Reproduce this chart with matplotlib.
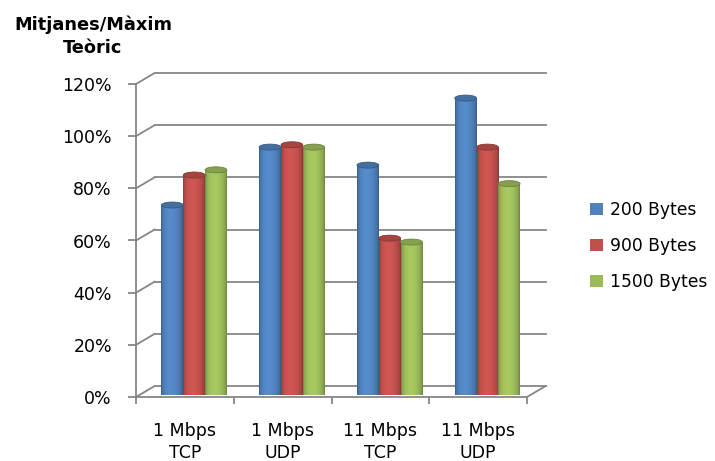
import numpy as np
import matplotlib.pyplot as plt
from matplotlib.patches import Ellipse, Patch, Polygon
from matplotlib.colors import to_rgb
from matplotlib.ticker import FuncFormatter

# ---------- Dades ----------
categories = ['1 Mbps\nTCP', '1 Mbps\nUDP', '11 Mbps\nTCP', '11 Mbps\nUDP']
series_names = ['200 Bytes', '900 Bytes', '1500 Bytes']
series_colors = ['#4F81BD', '#C0504D', '#9BBB59']
bytes_200 = [71.5, 93.7, 86.8, 112.5]
bytes_900 = [83.0, 94.6, 58.8, 93.7]
bytes_1500 = [85.0, 93.7, 57.3, 79.7]
y_ticks = [0, 20, 40, 60, 80, 100, 120]

series_values = [bytes_200, bytes_900, bytes_1500]

# ---------- Estil ----------
grid_col = '#868686'
grid_lw = 1.3
depth_x = 0.19     # desplaçament de la paret del fons (unitats de categoria)
depth_y = 4.2      # desplaçament de la paret del fons (en %)
bar_w = 0.223
ell_h = 2.3        # alçada de l'el·lipse superior (en %)

fig = plt.figure(figsize=(7.15, 4.61), dpi=100)
ax = fig.add_axes([136 / 715, 64 / 461, 391 / 715, 313 / 461])
ax.set_xlim(0, len(categories))
ax.set_ylim(0, 120)
ax.set_facecolor('none')


def cylinder(ax, xc, value, color):
    base = np.array(to_rgb(color))
    x0, x1 = xc - bar_w / 2, xc + bar_w / 2
    y0 = depth_y / 2
    y1 = value + depth_y / 2
    # ombrejat horitzontal del cos del cilindre
    t = np.linspace(0, 1, 60)
    k = 0.68 + 0.40 * np.sin(np.pi * t ** 0.85) ** 0.5
    grad = np.clip(base[None, :] * k[:, None], 0, 1)[None, :, :]
    th = np.linspace(np.pi, 2 * np.pi, 40)
    arc = np.column_stack([xc + bar_w / 2 * np.cos(th), y0 + ell_h / 2 * np.sin(th)])
    outline = np.vstack([[x0, y1], arc, [x1, y1]])
    clip = Polygon(outline, closed=True, transform=ax.transData, facecolor='none', edgecolor='none')
    ax.add_patch(clip)
    im = ax.imshow(grad, extent=[x0, x1, y0 - ell_h / 2, y1], aspect='auto',
                   interpolation='bilinear', zorder=3)
    im.set_clip_on(False)
    im.set_clip_path(clip)
    top = Ellipse((xc, y1), bar_w, ell_h, facecolor=np.clip(base * 0.86, 0, 1),
                  edgecolor=np.clip(base * 0.7, 0, 1), lw=0.6, zorder=4, clip_on=False)
    ax.add_patch(top)


# parets del fons i lateral
n = len(categories)
for lvl in y_ticks:
    ax.plot([depth_x, n + depth_x], [lvl + depth_y] * 2, color=grid_col, lw=grid_lw,
            clip_on=False, zorder=1)
    ax.plot([0, depth_x], [lvl, lvl + depth_y], color=grid_col, lw=grid_lw,
            clip_on=False, zorder=1)
ax.plot([n, n + depth_x], [0, depth_y], color=grid_col, lw=grid_lw, clip_on=False, zorder=1)

# cilindres
for s, (vals, col) in enumerate(zip(series_values, series_colors)):
    for i, v in enumerate(vals):
        xc = i + 0.5 + depth_x / 2 + (s - 1) * bar_w
        cylinder(ax, xc, v, col)

ax.set_xlim(0, n)
ax.set_ylim(0, 120)

# eixos
for side in ['top', 'right']:
    ax.spines[side].set_visible(False)
for side in ['left', 'bottom']:
    ax.spines[side].set_color(grid_col)
    ax.spines[side].set_linewidth(grid_lw)
    ax.spines[side].set_zorder(2)

ax.set_yticks(y_ticks)
ax.yaxis.set_major_formatter(FuncFormatter(lambda v, p: f'{v:.0f}%'))
ax.tick_params(axis='y', length=5.8, width=grid_lw, color=grid_col, pad=11.5,
               labelsize=12.5, labelcolor='black')

ax.set_xticks(np.arange(n + 1))
ax.set_xticklabels([])
ax.set_xticks(np.arange(n) + 0.5, minor=True)
ax.set_xticklabels(categories, minor=True, fontsize=12.5, linespacing=1.3)
ax.tick_params(axis='x', which='major', length=5, width=grid_lw, color=grid_col)
ax.tick_params(axis='x', which='minor', length=0, pad=18)

# títol de l'eix
fig.text(93 / 715, 1 - 36 / 461, 'Mitjanes/Màxim\nTeòric', ha='center', va='center',
         fontsize=12.8, fontweight='bold', linespacing=1.35)

# llegenda
handles = [Patch(facecolor=c, edgecolor='none') for c in series_colors]
fig.legend(handles, series_names, loc='center left', bbox_to_anchor=(590 / 715, 215 / 461),
           frameon=False, fontsize=12.3, handlelength=0.75, handleheight=0.75,
           handletextpad=0.45, labelspacing=1.05, borderpad=0, borderaxespad=0)

fig.savefig('out.png', dpi=100)
